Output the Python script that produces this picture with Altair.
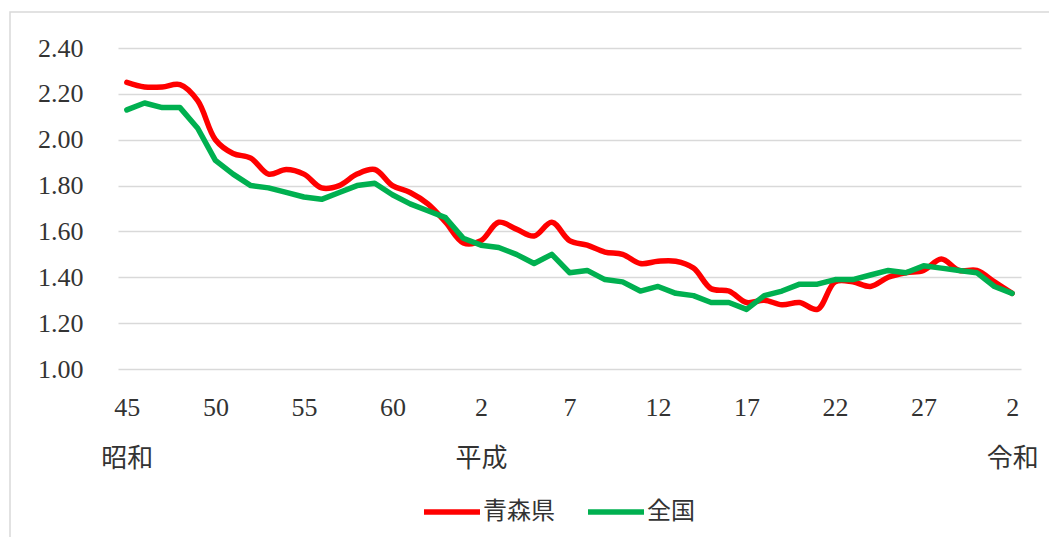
import altair as alt
import pandas as pd

years = list(range(1970, 2021))
aomori = [2.25, 2.23, 2.23, 2.24, 2.17, 2.00, 1.94, 1.92, 1.85, 1.87,
          1.85, 1.79, 1.80, 1.85, 1.87, 1.80, 1.77, 1.72, 1.64, 1.55,
          1.56, 1.64, 1.61, 1.58, 1.64, 1.56, 1.54, 1.51, 1.50, 1.46,
          1.47, 1.47, 1.44, 1.35, 1.34, 1.29, 1.30, 1.28, 1.29, 1.26,
          1.38, 1.38, 1.36, 1.40, 1.42, 1.43, 1.48, 1.43, 1.43, 1.38, 1.33]
national = [2.13, 2.16, 2.14, 2.14, 2.05, 1.91, 1.85, 1.80, 1.79, 1.77,
            1.75, 1.74, 1.77, 1.80, 1.81, 1.76, 1.72, 1.69, 1.66, 1.57,
            1.54, 1.53, 1.50, 1.46, 1.50, 1.42, 1.43, 1.39, 1.38, 1.34,
            1.36, 1.33, 1.32, 1.29, 1.29, 1.26, 1.32, 1.34, 1.37, 1.37,
            1.39, 1.39, 1.41, 1.43, 1.42, 1.45, 1.44, 1.43, 1.42, 1.36, 1.33]
series_names = ["青森県", "全国"]
series_colors = ["#FF0000", "#00B050"]

tick_years = [1970, 1975, 1980, 1985, 1990, 1995, 2000, 2005, 2010, 2015, 2020]
tick_nums = ["45", "50", "55", "60", "2", "7", "12", "17", "22", "27", "2"]
tick_eras = ["昭和", "", "", "", "平成", "", "", "", "", "", "令和"]
y_ticks = [1.0, 1.2, 1.4, 1.6, 1.8, 2.0, 2.2, 2.4]

rows = []
for y, a, n in zip(years, aomori, national):
    rows.append({"year": y, "series": series_names[0], "value": a})
    rows.append({"year": y, "series": series_names[1], "value": n})
df = pd.DataFrame(rows)

expr = "''"
for ty, num, era in reversed(list(zip(tick_years, tick_nums, tick_eras))):
    lab = f"['{num}', '{era}']" if era else f"['{num}']"
    expr = f"datum.value == {ty} ? {lab} : ({expr})"

FONT = "Liberation Serif, Noto Sans CJK JP"

x_enc = alt.X("year:Q",
              scale=alt.Scale(domain=[1969.5, 2020.5], nice=False, zero=False),
              axis=alt.Axis(values=tick_years, labelExpr=expr, grid=False,
                            domain=False, ticks=False, labelPadding=25,
                            labelLineHeight=51, labelOverlap=False,
                            labelFlush=False, labelBaseline="top",
                            title=None))
y_enc = alt.Y("value:Q",
              scale=alt.Scale(domain=[1.0, 2.4], nice=False, zero=False),
              axis=alt.Axis(values=y_ticks, format=".2f", grid=True,
                            gridColor="#d9d9d9", gridWidth=1.5,
                            domain=False, ticks=False, labelPadding=35,
                            title=None))
color_enc = alt.Color("series:N",
                      scale=alt.Scale(domain=series_names, range=series_colors),
                      legend=alt.Legend(orient="none", legendX=303, legendY=433,
                                        direction="horizontal", title=None,
                                        symbolType="stroke", symbolSize=3136,
                                        symbolStrokeWidth=5.5, labelOffset=0,
                                        columnPadding=22, labelFontSize=24,
                                        labelFont=FONT, labelColor="#333333"))

base = alt.Chart(df)
red = base.transform_filter(alt.datum.series == series_names[0]).mark_line(
    strokeWidth=5.5, interpolate="catmull-rom", strokeCap="round", strokeJoin="round"
).encode(x=x_enc, y=y_enc, color=color_enc)
green = base.transform_filter(alt.datum.series == series_names[1]).mark_line(
    strokeWidth=5.5, strokeCap="round", strokeJoin="round"
).encode(x=x_enc, y=y_enc, color=color_enc)

border = alt.Chart(alt.Data(values=[{"k": 1}])).mark_rect(
    fill=None, stroke="#d9d9d9", strokeWidth=1.5
).encode(x=alt.value(-108), y=alt.value(-36), x2=alt.value(960), y2=alt.value(530))

chart = alt.layer(border, red, green).properties(
    width=903, height=321,
    autosize=alt.AutoSizeParams(type="none"),
    padding={"left": 110, "top": 40, "right": 28, "bottom": 168},
).configure_view(stroke=None).configure_axis(
    labelFont=FONT, labelFontSize=26, labelColor="#333333"
)

chart.save("out.html", embed_options={"renderer": "svg", "actions": False})
